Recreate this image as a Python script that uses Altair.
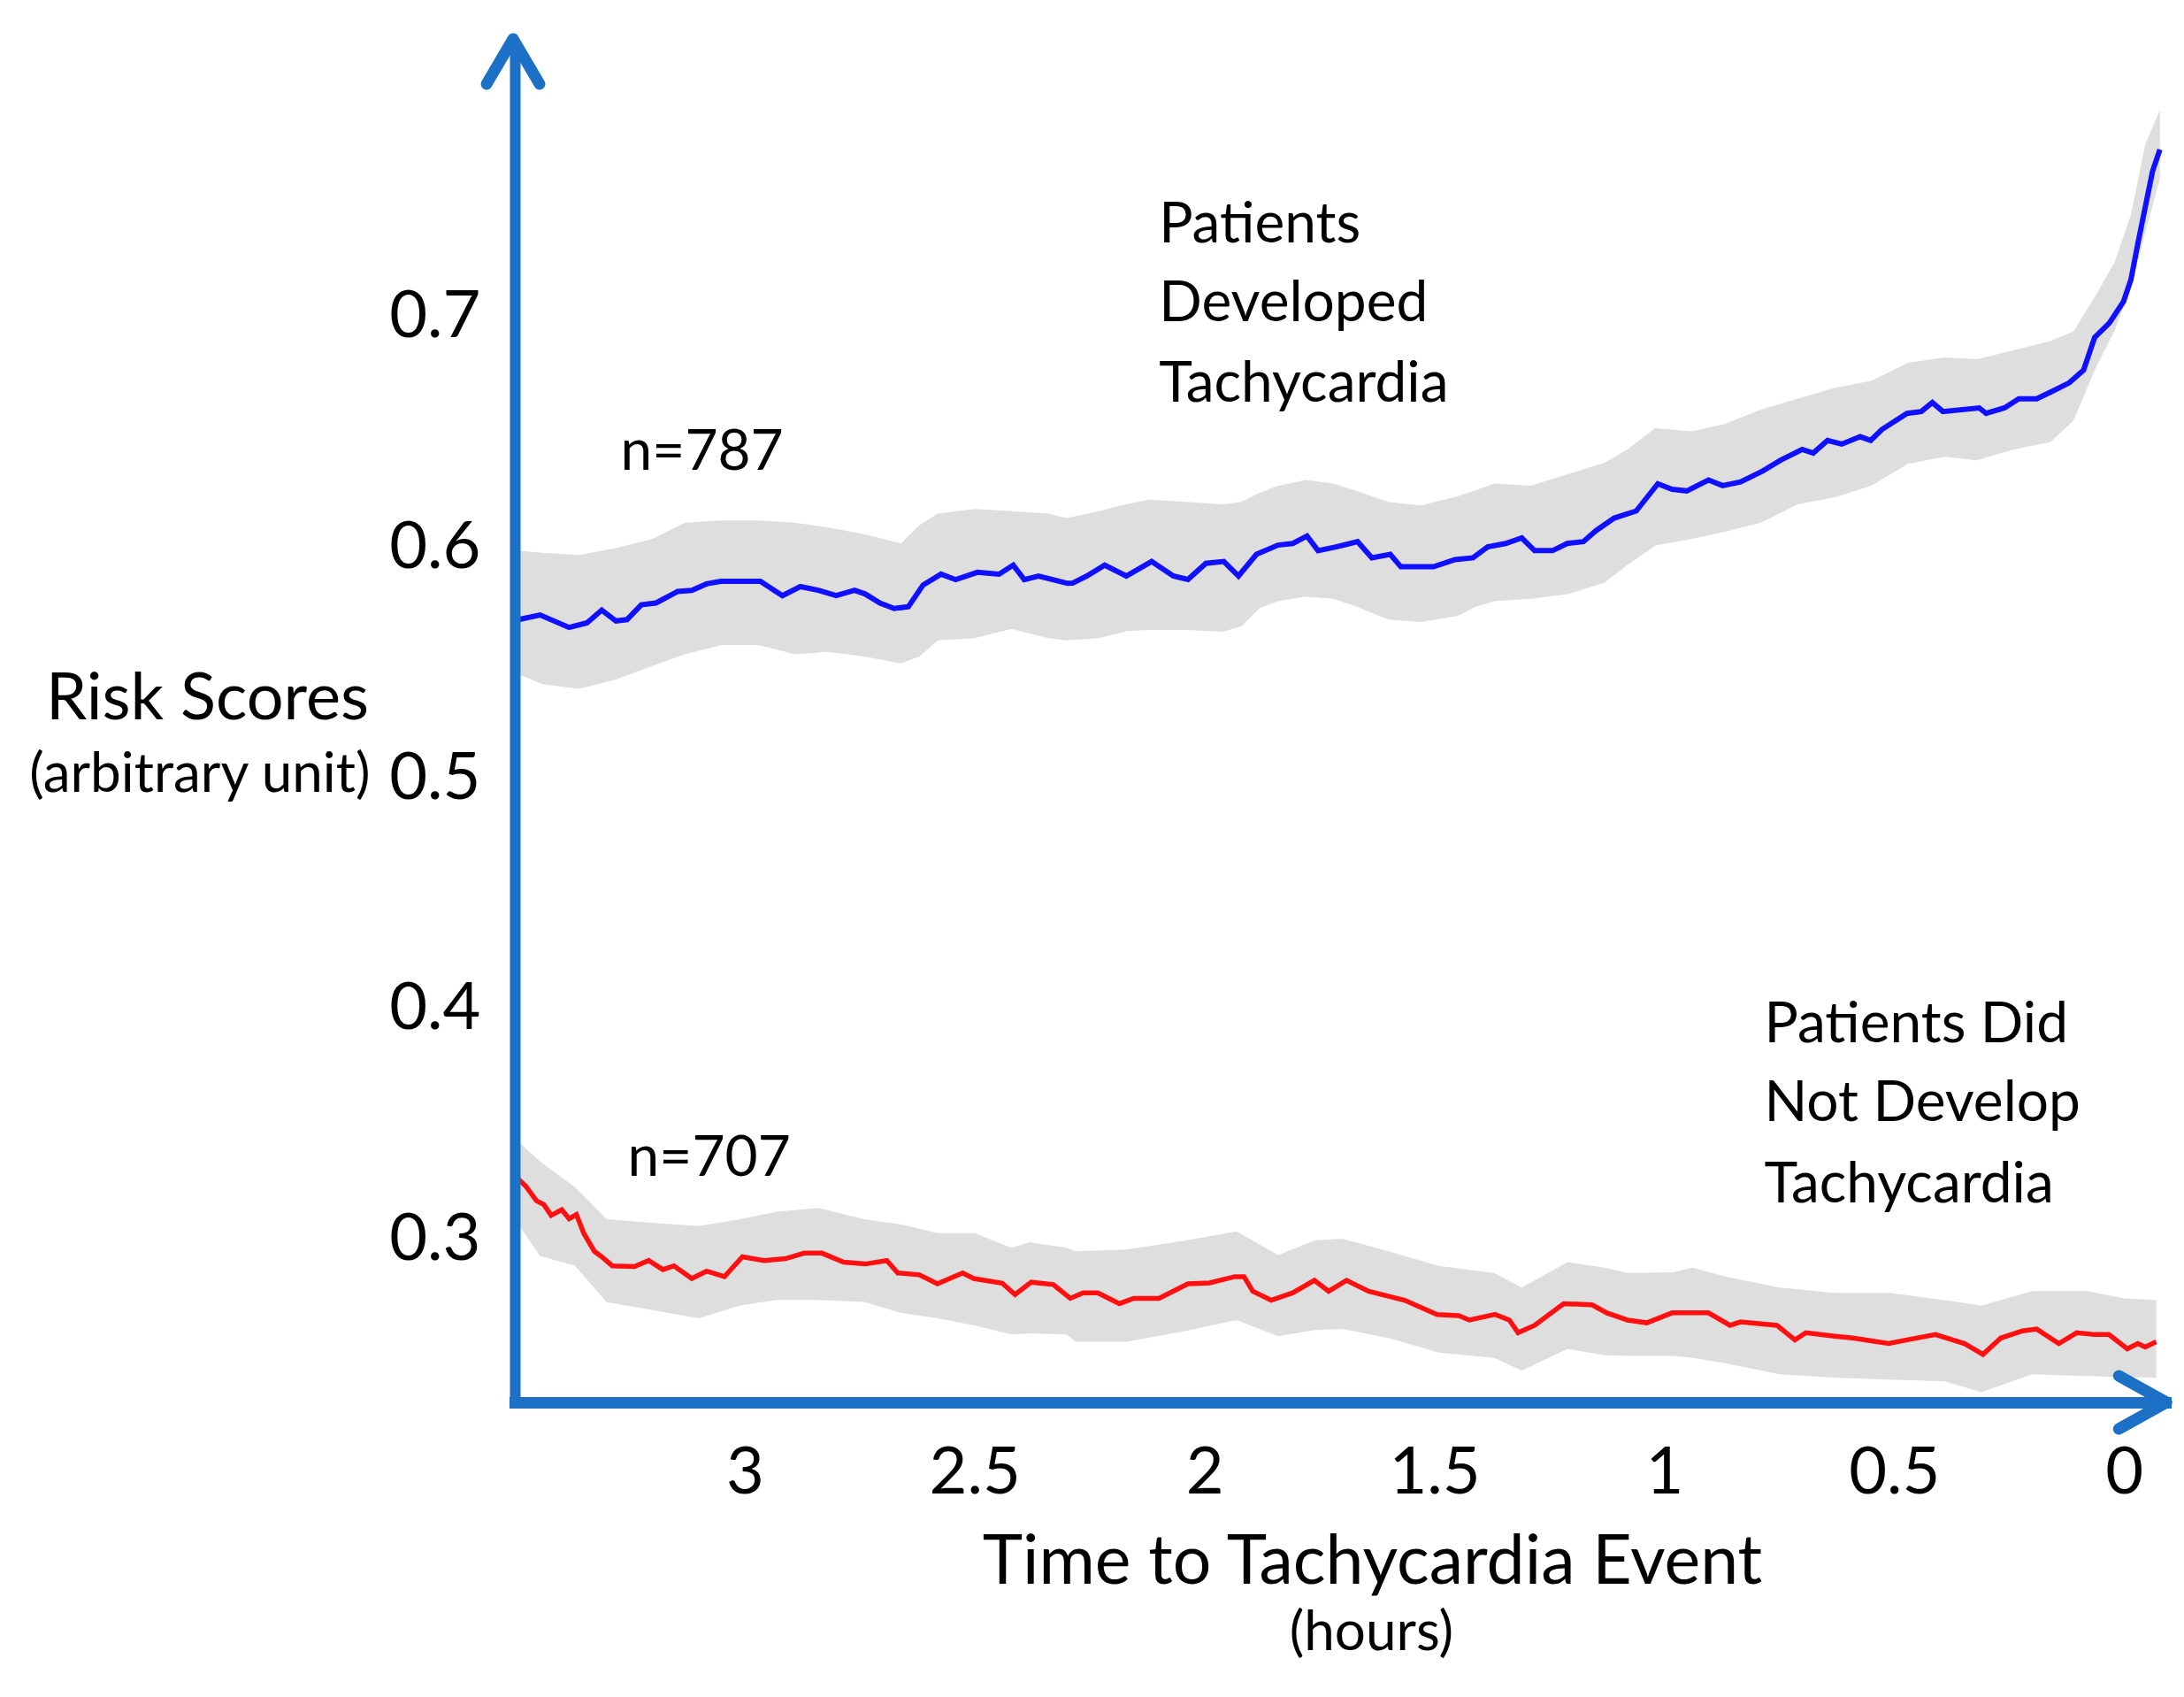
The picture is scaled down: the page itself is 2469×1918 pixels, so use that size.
"""
Risk scores of patients who did and did not develop tachycardia,
plotted against the time left before the event (hours).
"""
import pandas as pd
import altair as alt

AXIS_BLUE = "#1C71C6"
FONT = "Lato"

# mean risk score, patients who developed tachycardia (n=787)
blue_t = [3.492, 3.445, 3.382, 3.343, 3.311, 3.280, 3.256, 3.225, 3.193, 3.146,
          3.115, 3.083, 3.052, 2.966, 2.918, 2.879, 2.840, 2.801, 2.761, 2.738,
          2.706, 2.675, 2.644, 2.612, 2.573, 2.541, 2.494, 2.447, 2.416, 2.392,
          2.361, 2.330, 2.298, 2.287, 2.256, 2.217, 2.170, 2.115, 2.068, 2.036,
          1.997, 1.958, 1.926, 1.887, 1.840, 1.808, 1.777, 1.753, 1.714, 1.667,
          1.636, 1.596, 1.573, 1.502, 1.455, 1.416, 1.384, 1.345, 1.310, 1.282,
          1.243, 1.211, 1.176, 1.149, 1.109, 1.061, 1.014, 0.983, 0.951, 0.904,
          0.873, 0.834, 0.786, 0.747, 0.700, 0.676, 0.645, 0.614, 0.574, 0.551,
          0.527, 0.472, 0.441, 0.417, 0.394, 0.315, 0.300, 0.260, 0.229, 0.190,
          0.158, 0.119, 0.088, 0.064, 0.032, 0.001, -0.015, -0.030, -0.046, -0.062,
          -0.078]
blue_v = [0.5690, 0.5710, 0.5656, 0.5676, 0.5731, 0.5684, 0.5690, 0.5754, 0.5762, 0.5812,
          0.5817, 0.5845, 0.5856, 0.5856, 0.5794, 0.5833, 0.5817, 0.5794, 0.5817, 0.5801,
          0.5762, 0.5738, 0.5746, 0.5840, 0.5887, 0.5863, 0.5895, 0.5887, 0.5926, 0.5863,
          0.5879, 0.5863, 0.5847, 0.5848, 0.5879, 0.5926, 0.5879, 0.5942, 0.5879, 0.5864,
          0.5934, 0.5942, 0.5879, 0.5973, 0.6013, 0.6020, 0.6052, 0.5989, 0.6005, 0.6028,
          0.5958, 0.5973, 0.5919, 0.5919, 0.5950, 0.5958, 0.6005, 0.6020, 0.6044, 0.5989,
          0.5989, 0.6020, 0.6028, 0.6075, 0.6130, 0.6161, 0.6279, 0.6255, 0.6248, 0.6295,
          0.6271, 0.6287, 0.6334, 0.6381, 0.6428, 0.6412, 0.6467, 0.6451, 0.6483, 0.6467,
          0.6514, 0.6584, 0.6592, 0.6631, 0.6592, 0.6608, 0.6584, 0.6608, 0.6647, 0.6647,
          0.6678, 0.6717, 0.6772, 0.6913, 0.6976, 0.7070, 0.7164, 0.7320, 0.7477, 0.7634,
          0.7728]

# shaded spread around the blue curve
blue_band_t = [3.50, 3.44, 3.36, 3.28, 3.20, 3.13, 3.05, 2.97, 2.89, 2.82,
               2.74, 2.66, 2.62, 2.58, 2.50, 2.42, 2.34, 2.30, 2.23, 2.17,
               2.12, 2.04, 1.96, 1.92, 1.88, 1.84, 1.78, 1.72, 1.68, 1.60,
               1.53, 1.45, 1.41, 1.37, 1.29, 1.21, 1.13, 1.08, 1.02, 0.94,
               0.87, 0.79, 0.71, 0.63, 0.55, 0.47, 0.39, 0.32, 0.24, 0.16,
               0.11, 0.06, 0.02, -0.015, -0.046, -0.078]
blue_lo = [0.546, 0.541, 0.539, 0.543, 0.549, 0.554, 0.558, 0.558, 0.554, 0.555,
           0.553, 0.550, 0.553, 0.560, 0.561, 0.565, 0.561, 0.560, 0.561, 0.564,
           0.5645, 0.5645, 0.5637, 0.566, 0.574, 0.577, 0.579, 0.578, 0.5754, 0.569,
           0.568, 0.5705, 0.5746, 0.577, 0.578, 0.580, 0.585, 0.5927, 0.601, 0.604,
           0.607, 0.611, 0.619, 0.622, 0.627, 0.6365, 0.6396, 0.6381, 0.6428, 0.6459,
           0.6553, 0.6788, 0.6945, 0.7133, 0.7367, 0.7602]
blue_hi = [0.599, 0.598, 0.597, 0.600, 0.604, 0.611, 0.612, 0.612, 0.611, 0.609,
           0.606, 0.602, 0.610, 0.615, 0.617, 0.616, 0.615, 0.613, 0.616, 0.619,
           0.621, 0.620, 0.619, 0.620, 0.624, 0.627, 0.6295, 0.628, 0.6255, 0.620,
           0.6185, 0.6224, 0.625, 0.628, 0.627, 0.632, 0.637, 0.6428, 0.652, 0.6506,
           0.6537, 0.660, 0.6647, 0.6694, 0.6725, 0.6804, 0.6827, 0.6819, 0.6858, 0.6898,
           0.694, 0.7101, 0.7242, 0.7446, 0.775, 0.790]

# mean risk score, patients who did not develop tachycardia (n=707)
red_t = [3.492, 3.476, 3.453, 3.437, 3.421, 3.398, 3.382, 3.366, 3.350, 3.327,
         3.311, 3.288, 3.240, 3.209, 3.178, 3.154, 3.115, 3.083, 3.044, 3.005,
         2.958, 2.911, 2.871, 2.832, 2.785, 2.738, 2.691, 2.667, 2.620, 2.581,
         2.526, 2.502, 2.440, 2.412, 2.377, 2.329, 2.292, 2.264, 2.232, 2.185,
         2.154, 2.099, 2.036, 1.989, 1.934, 1.914, 1.895, 1.855, 1.808, 1.761,
         1.730, 1.691, 1.643, 1.565, 1.494, 1.447, 1.424, 1.368, 1.337, 1.318,
         1.282, 1.219, 1.157, 1.125, 1.080, 1.038, 0.983, 0.904, 0.857, 0.834,
         0.755, 0.716, 0.692, 0.629, 0.590, 0.512, 0.472, 0.410, 0.347, 0.307,
         0.268, 0.221, 0.190, 0.142, 0.103, 0.064, 0.033, -0.007, -0.030, -0.046,
         -0.070]
red_v = [0.3264, 0.3233, 0.3170, 0.3154, 0.3107, 0.3131, 0.3092, 0.3110, 0.3029, 0.2951,
         0.2927, 0.2888, 0.2885, 0.2911, 0.2872, 0.2888, 0.2833, 0.2865, 0.2841, 0.2927,
         0.2911, 0.2919, 0.2943, 0.2943, 0.2904, 0.2896, 0.2911, 0.2857, 0.2849, 0.2810,
         0.2857, 0.2833, 0.2813, 0.2763, 0.2817, 0.2807, 0.2747, 0.2771, 0.2771, 0.2724,
         0.2747, 0.2747, 0.2810, 0.2814, 0.2841, 0.2841, 0.2778, 0.2739, 0.2771, 0.2825,
         0.2778, 0.2825, 0.2778, 0.2739, 0.2677, 0.2672, 0.2653, 0.2677, 0.2653, 0.2598,
         0.2630, 0.2724, 0.2719, 0.2684, 0.2653, 0.2641, 0.2684, 0.2684, 0.2630, 0.2645,
         0.2630, 0.2567, 0.2598, 0.2583, 0.2575, 0.2551, 0.2567, 0.2590, 0.2551, 0.2504,
         0.2575, 0.2606, 0.2614, 0.2551, 0.2598, 0.2590, 0.2590, 0.2528, 0.2551, 0.2536,
         0.2559]

# shaded spread around the red curve
red_band_t = [3.50, 3.445, 3.37, 3.30, 3.21, 3.10, 3.01, 2.93, 2.84, 2.74,
              2.66, 2.58, 2.50, 2.42, 2.38, 2.30, 2.28, 2.17, 2.04, 1.93,
              1.84, 1.76, 1.70, 1.60, 1.49, 1.37, 1.31, 1.21, 1.13, 1.08,
              0.98, 0.94, 0.865, 0.75, 0.63, 0.51, 0.39, 0.31, 0.20, 0.08,
              0.00, -0.07]
red_lo = [0.309, 0.293, 0.289, 0.273, 0.270, 0.266, 0.2716, 0.274, 0.274, 0.2731,
          0.2684, 0.266, 0.263, 0.259, 0.2595, 0.259, 0.2559, 0.2559, 0.2606, 0.2653,
          0.2583, 0.261, 0.2614, 0.2575, 0.2512, 0.2489, 0.2434, 0.2528, 0.250, 0.2497,
          0.2497, 0.249, 0.2465, 0.2418, 0.2403, 0.2395, 0.2387, 0.234, 0.2418, 0.241,
          0.2405, 0.2403]
red_hi = [0.344, 0.334, 0.323, 0.309, 0.3076, 0.306, 0.309, 0.3123, 0.3139, 0.309,
          0.3068, 0.303, 0.303, 0.2966, 0.299, 0.2966, 0.2951, 0.2959, 0.2998, 0.3037,
          0.2935, 0.2998, 0.3006, 0.2951, 0.2888, 0.2857, 0.2794, 0.2904, 0.288, 0.2857,
          0.286, 0.288, 0.2841, 0.2794, 0.2771, 0.2771, 0.2739, 0.2716, 0.2778, 0.2778,
          0.2747, 0.2739]

# annotation text, anchored in data units (left / baseline)
note_text = ["n=787", "n=707",
             "Patients", "Developed", "Tachycardia",
             "Patients Did", "Not Develop", "Tachycardia"]
note_t = [3.270, 3.2545, 2.099, 2.099, 2.099, 0.7825, 0.7825, 0.7825]
note_v = [0.6341, 0.3280, 0.7325, 0.6984, 0.6635, 0.3856, 0.3515, 0.3162]

# small unit captions under the axis titles (centre / baseline)
unit_text = ["(arbitrary unit)", "(hours)"]
unit_t = [4.185, 1.637]
unit_v = [0.4943, 0.1222]

# arrowhead anchors at the ends of the two axes
arrow_up_t, arrow_up_v = [3.5038], [0.8110]
arrow_right_t, arrow_right_v = [-0.0405], [0.2296]

x_ticks = [3, 2.5, 2, 1.5, 1, 0.5, 0]
y_ticks = [0.3, 0.4, 0.5, 0.6, 0.7]

xscale = alt.Scale(domain=[-0.09, 3.5], reverse=True, nice=False, zero=False)
yscale = alt.Scale(domain=[0.2296, 0.82], nice=False, zero=False)

x_axis = alt.Axis(
    values=x_ticks, format="~g",
    title="Time to Tachycardia Event",
    titleFont=FONT, titleFontSize=77, titleFontWeight="normal", titleColor="black",
    titleX=969, titleY=204, titleAlign="center", titleBaseline="alphabetic",
    labelFont=FONT, labelFontSize=74, labelColor="black", labelPadding=44,
    ticks=False, tickSize=0, grid=False,
    domainColor=AXIS_BLUE, domainWidth=13, domainCap="square", zindex=1,
)
y_axis = alt.Axis(
    values=y_ticks, format=".1f",
    title="Risk Scores",
    titleFont=FONT, titleFontSize=74, titleFontWeight="normal", titleColor="black",
    titleAngle=0, titleX=-348, titleY=766, titleAlign="center", titleBaseline="alphabetic",
    labelFont=FONT, labelFontSize=74, labelColor="black", labelPadding=39,
    ticks=False, tickSize=0, grid=False,
    domainColor=AXIS_BLUE, domainWidth=12, domainCap="butt", zindex=1,
)


def xy(yfield="v"):
    return dict(
        x=alt.X("t:Q", scale=xscale, axis=x_axis),
        y=alt.Y(f"{yfield}:Q", scale=yscale, axis=y_axis),
    )


blue_band = pd.DataFrame({"t": blue_band_t, "lo": blue_lo, "hi": blue_hi})
red_band = pd.DataFrame({"t": red_band_t, "lo": red_lo, "hi": red_hi})
blue = pd.DataFrame({"t": blue_t, "v": blue_v})
red = pd.DataFrame({"t": red_t, "v": red_v})
notes = pd.DataFrame({"t": note_t, "v": note_v, "label": note_text})
units = pd.DataFrame({"t": unit_t, "v": unit_v, "label": unit_text})
up = pd.DataFrame({"t": arrow_up_t, "v": arrow_up_v})
right = pd.DataFrame({"t": arrow_right_t, "v": arrow_right_v})

bands = alt.layer(*[
    alt.Chart(b).mark_area(color="#dedede").encode(**xy("lo"), y2="hi:Q")
    for b in (blue_band, red_band)
])

blue_line = alt.Chart(blue).mark_line(color="#1010FF", strokeWidth=6).encode(**xy())
red_line = alt.Chart(red).mark_line(color="#FF1010", strokeWidth=5.5).encode(**xy())

note_marks = alt.Chart(notes).mark_text(
    font=FONT, fontSize=64, align="left", baseline="alphabetic", color="black"
).encode(**xy(), text="label:N")

unit_marks = alt.Chart(units).mark_text(
    font=FONT, fontSize=62, align="center", baseline="alphabetic", color="black"
).encode(**xy(), text="label:N")

# open chevrons for the arrow tips
up_head = alt.Chart(up).mark_point(
    shape="M-1,0.85L0,-0.85L1,0.85", size=3600, filled=False,
    stroke=AXIS_BLUE, strokeWidth=13, strokeCap="round", strokeJoin="round", opacity=1,
).encode(**xy())
right_head = alt.Chart(right).mark_point(
    shape="M-0.9,-1L0.9,0L-0.9,1", size=3600, filled=False,
    stroke=AXIS_BLUE, strokeWidth=13, strokeCap="round", strokeJoin="round", opacity=1,
).encode(**xy())

chart = alt.layer(
    bands, blue_line, red_line, note_marks, unit_marks, up_head, right_head
).properties(
    width=1866,
    height=1539,
    autosize=alt.AutoSizeParams(type="none"),
    padding={"left": 574, "top": 38, "right": 10, "bottom": 320},
).configure(
    background="white"
).configure_view(
    stroke=None, strokeWidth=0
)

chart.save("out.html", embed_options={"renderer": "svg", "actions": False})
